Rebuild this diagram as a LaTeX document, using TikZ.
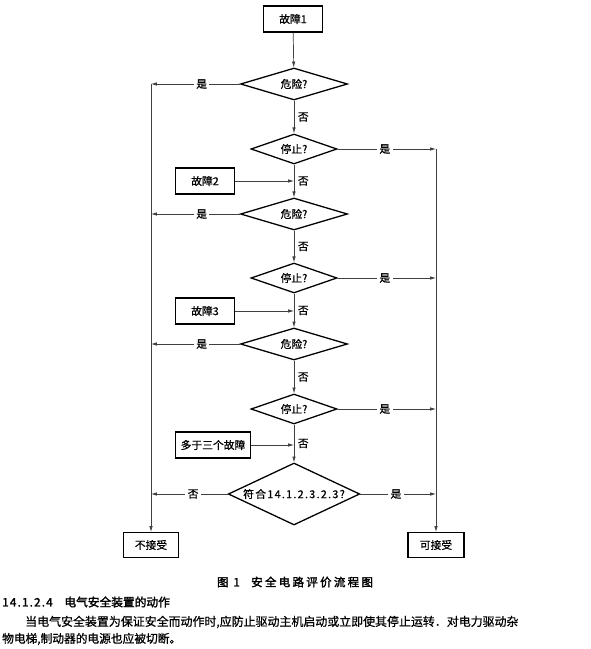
\documentclass[tikz,border=0pt]{standalone}
\usepackage{fontspec}
\usepackage{tikz}
\usetikzlibrary{shapes.geometric,arrows.meta}
\newfontfamily\cjk[FakeBold=0.8]{Noto Sans CJK SC}
\newfontfamily\cjkwide[FakeBold=0.8,LetterSpace=12]{Noto Sans CJK SC}
\newfontfamily\cjkb[FakeBold=2]{Noto Sans CJK SC}
\newfontfamily\cjknum[FakeBold=2,LetterSpace=10]{Noto Sans CJK SC}
\newfontfamily\cjkcap[FakeBold=2,LetterSpace=20]{Noto Sans CJK SC}

\begin{document}
\begin{tikzpicture}[x=0.03cm,y=-0.03cm,
    txt/.style={font=\cjk\fontsize{9.2}{11}\selectfont},
    fault/.style={txt,draw,line width=0.9pt,minimum width=1.77cm,minimum height=0.78cm,inner sep=0pt},
    ask/.style={txt,diamond,draw,line width=1.1pt,aspect=3,inner sep=0pt},
    hazard/.style={ask,minimum width=3.21cm,minimum height=0.96cm},
    halt/.style={ask,minimum width=2.58cm,minimum height=0.9cm},
    flow/.style={draw=black!75,line width=0.6pt,-{Latex[length=5pt,width=3pt]}},
    lbl/.style={txt,fill=white,inner sep=2pt},
    no/.style={txt,right,inner sep=3pt}]
    \useasboundingbox (0,0) rectangle (590,649);
    \node[fault] (f1) at (293,19) {故障1};
    \node[hazard] (d1) at (294,84) {危险?};
    \node[halt] (s1) at (294,149) {停止?};
    \node[fault] (f2) at (205,181) {故障2};
    \node[hazard] (d2) at (294,214) {危险?};
    \node[halt] (s2) at (294,278) {停止?};
    \node[fault] (f3) at (205,311) {故障3};
    \node[hazard] (d3) at (294,344) {危险?};
    \node[halt] (s3) at (294,409) {停止?};
    \node[fault,minimum width=2.25cm,line width=1.6pt] (f4) at (213,445) {多于三个故障};
    \node[ask,minimum width=3.78cm,minimum height=1.86cm] (dc) at (294,494) {\cjkwide 符合14.1.2.3.2.3?};
    \node[fault,minimum width=1.65cm,minimum height=0.75cm] (rej) at (151,545) {不接受};
    \node[fault,minimum width=1.68cm,minimum height=0.75cm] (acc) at (436,545) {可接受};
    \coordinate (l1) at (151,84);
    \coordinate (l2) at (151,214);
    \coordinate (l3) at (151,344);
    \coordinate (l4) at (151,494);
    \coordinate (r1) at (436,149);
    \coordinate (r2) at (436,278);
    \coordinate (r3) at (436,409);
    \coordinate (r4) at (436,494);
    \draw[flow] (f1) -- (d1);
    \draw[flow] (d1) -- node[no] {否} (s1);
    \draw[flow] (s1) -- node[no] {否} (d2);
    \draw[flow] (d2) -- node[no] {否} (s2);
    \draw[flow] (s2) -- node[no] {否} (d3);
    \draw[flow] (d3) -- node[no] {否} (s3);
    \draw[flow] (s3) -- node[no] {否} (dc);
    \draw[flow] (f2) -- (f2 -| d2);
    \draw[flow] (f3) -- (f3 -| d3);
    \draw[flow] (f4) -- (f4 -| dc);
    \draw[flow] (d1) -- node[lbl,pos=0.43] {是} (l1);
    \draw[flow] (d2) -- node[lbl,pos=0.43] {是} (l2);
    \draw[flow] (d3) -- node[lbl,pos=0.43] {是} (l3);
    \draw[flow] (dc) -- node[lbl,pos=0.45] {否} (l4);
    \draw[flow] (s1) -- node[lbl,pos=0.48] {是} (r1);
    \draw[flow] (s2) -- node[lbl,pos=0.48] {是} (r2);
    \draw[flow] (s3) -- node[lbl,pos=0.48] {是} (r3);
    \draw[flow] (dc) -- node[lbl,pos=0.47] {是} (r4);
    \draw[flow] (l1) -- (rej);
    \draw[flow] (r1) -- (acc);
    \node[font=\cjkcap\fontsize{9.8}{11}\selectfont] (cap) at (295,582) {图 1\quad 安全电路评价流程图};
    \node[anchor=west,inner sep=0pt,font=\cjkb\fontsize{10}{12}\selectfont] (head) at (2,602) {{\cjknum 14.1.2.4}\quad 电气安全装置的动作};
    \node[anchor=west,inner sep=0pt,font=\cjk\fontsize{10.2}{12}\selectfont] (p1) at (25,622) {当电气安全装置为保证安全而动作时,应防止驱动主机启动或立即使其停止运转．对电力驱动杂};
    \node[anchor=west,inner sep=0pt,font=\cjk\fontsize{10}{12}\selectfont] (p2) at (2,639) {物电梯,制动器的电源也应被切断。};
\end{tikzpicture}
\end{document}
